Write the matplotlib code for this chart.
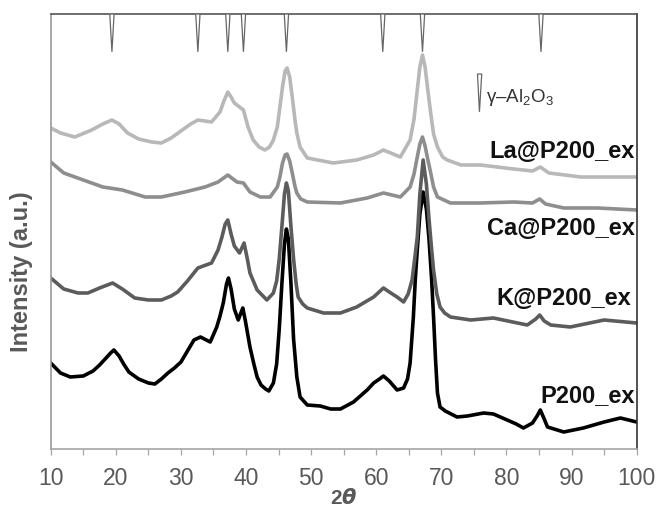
import matplotlib
matplotlib.use("Agg")
import matplotlib.pyplot as plt
from matplotlib.patches import Polygon
from matplotlib.transforms import blended_transform_factory

plt.rcParams['font.family'] = ['Liberation Sans', 'DejaVu Sans']
plt.rcParams['mathtext.fontset'] = 'custom'
plt.rcParams['mathtext.rm'] = 'Liberation Sans'
plt.rcParams['mathtext.it'] = 'Liberation Sans:italic'
plt.rcParams['mathtext.bf'] = 'Liberation Sans:bold'

# XRD patterns (2theta, intensity in arbitrary units)
p200_x = [10, 11.5, 13, 15, 16.5, 17.5, 18.5, 19.2, 19.7, 20.5, 21.2, 22, 23.5, 25, 26, 27, 28, 29, 30,
          31, 32, 33, 34.5, 35.5, 36, 36.5, 37, 37.3, 37.7, 38.2, 38.8, 39.2, 39.5, 39.9, 40.6, 41.2,
          41.7, 42.3, 43, 43.5, 44.2, 44.7, 45.1, 45.5, 45.9, 46.2, 46.5, 46.9, 47.3, 47.8, 48.3, 49.4,
          51.4, 53, 54.5, 56.5, 58.6, 59.6, 60.5, 61.1, 62, 63.2, 64.2, 64.8, 65.2, 65.7, 66.0, 66.3,
          66.7, 67.2, 67.7, 68.1, 68.5, 68.8, 69.1, 69.4, 69.8, 70.6, 72.4, 74, 76.5, 78, 80.1, 81.5,
          82.6, 84, 84.7, 85.2, 85.8, 86.3, 88.8, 91.8, 95, 97.5, 100]
p200_y = [86, 76, 72, 73, 78, 84, 91, 96, 99, 93, 85, 77, 70, 66, 65, 70, 76, 81, 87,
          98, 109, 112, 107, 122, 133, 146, 165, 171, 160, 140, 129, 136, 141, 128, 102, 85,
          72, 64, 60, 58, 66, 85, 120, 165, 205, 220, 210, 165, 110, 72, 52, 44,
          43, 40, 40, 47, 59, 66, 70, 73, 68, 59, 61, 70, 86, 132, 170, 199,
          235, 257, 240, 210, 170, 132, 90, 56, 42, 38, 32, 33, 36, 35, 29, 25,
          21, 26, 33, 39, 30, 22, 17, 21, 27, 31, 27]

k_x = [10, 12, 14.2, 15.7, 17.5, 19.5, 21, 22.9, 25, 27, 28.5, 29.5, 31, 32.6, 34.7, 35.7, 36.3, 36.8,
       37.2, 37.7, 38.2, 39, 39.7, 40.2, 40.6, 41.7, 43.2, 44.2, 44.7, 45.1, 45.5, 45.9, 46.2, 46.5,
       46.9, 47.3, 47.7, 48, 48.7, 49.4, 51.9, 54.5, 57, 59.6, 61.1, 62, 63.2, 64.2, 64.9, 65.5, 65.9,
       66.3, 66.7, 67.2, 67.7, 68.1, 68.5, 68.8, 69.3, 69.8, 70.5, 71.4, 74.5, 78, 81.7, 83.2, 84.5,
       85.1, 85.8, 86.8, 89.8, 95, 100]
k_y = [171, 160, 156, 156, 161, 166, 160, 151, 149, 149, 153, 157, 168, 181, 186, 199, 212, 225,
       229, 215, 203, 196, 206, 190, 176, 159, 149, 156, 168, 190, 222, 255, 266, 258,
       222, 190, 165, 152, 145, 141, 136, 136, 142, 152, 161, 157, 152, 147, 155, 169, 190,
       212, 255, 289, 265, 230, 200, 179, 155, 142, 136, 132, 129, 131, 126, 124, 130,
       134, 128, 124, 122, 129, 126]

ca_x = [10, 12, 15, 18, 21, 24.5, 27, 30.6, 33.7, 35.7, 37.2, 38.6, 39.6, 40.6, 42.2, 43.7, 44.8, 45.2,
        45.6, 46.0, 46.3, 46.7, 47.1, 47.5, 47.8, 48.4, 49.4, 54.5, 58.6, 61.1, 63.7, 65.2, 65.8, 66.3,
        66.7, 67.1, 67.5, 67.9, 68.3, 68.8, 69.4, 71.4, 76, 81.1, 84, 85.1, 86, 88.8, 94, 100]
ca_y = [287, 276, 269, 262, 259, 252, 252, 257, 262, 267, 274, 267, 266, 257, 252, 252, 262, 272,
        286, 294, 295, 288, 276, 263, 256, 250, 247, 246, 251, 256, 252, 262, 275, 292,
        305, 312, 303, 290, 278, 262, 252, 246, 246, 247, 246, 250, 245, 241, 241, 239]

la_x = [10, 11.5, 13.7, 16.3, 18, 19.4, 20.5, 21.8, 23.5, 25.5, 27, 28.5, 30.2, 31.5, 32.6, 34.7, 36,
        36.6, 37.2, 37.7, 38.2, 39, 39.6, 40.3, 41.1, 42, 42.9, 43.6, 44.2, 44.8, 45.2, 45.6, 46.0,
        46.3, 46.7, 47.1, 47.5, 47.8, 48.3, 49.4, 53.4, 57, 59.6, 61.1, 63.7, 65.2, 65.8, 66.3, 66.7,
        67.1, 67.5, 67.9, 68.3, 68.8, 69.4, 70.2, 70.9, 73, 76, 81.1, 84, 85.2, 86.5, 91.4, 100]
la_y = [321, 316, 312, 319, 325, 329, 325, 316, 310, 307, 306, 311, 319, 325, 329, 327, 337,
        348, 357, 352, 346, 342, 339, 322, 309, 302, 299, 302, 309, 322, 342, 362, 378,
        381, 372, 352, 330, 316, 302, 291, 286, 289, 294, 299, 292, 309, 330, 359, 382,
        394, 382, 360, 339, 315, 302, 292, 289, 284, 284, 280, 278, 282, 276, 272, 272]

series = [
    ("P200_ex", p200_x, p200_y, "#000000", 0.997, 0.124),
    ("K@P200_ex", k_x, k_y, "#5c5c5c", 0.99, 0.347),
    ("Ca@P200_ex", ca_x, ca_y, "#8e8e8e", 0.997, 0.508),
    ("La@P200_ex", la_x, la_y, "#b8b8b8", 0.997, 0.683),
]

# gamma-Al2O3 reference reflections
al2o3_pos = [19.4, 32.6, 37.2, 39.6, 46.2, 61.0, 67.1, 85.3]

fig = plt.figure(figsize=(6.58, 5.07), dpi=100)
ax = fig.add_axes([0.0771, 0.1144, 0.8905, 0.858])

for name, xs, ys, col, tx, ty in series:
    ax.plot(xs, ys, color=col, lw=2.6, solid_joinstyle='round')
    ax.text(tx, ty, name, transform=ax.transAxes,
            ha='right', va='center', fontsize=17, fontweight='bold', color='#111111')

trans = blended_transform_factory(ax.transData, ax.transAxes)
for p in al2o3_pos:
    tri = Polygon([[p - 0.33, 1.0], [p + 0.33, 1.0], [p, 0.913]], closed=True,
                  facecolor='white', edgecolor='#666666', lw=0.9, transform=trans, zorder=5)
    ax.add_patch(tri)

# legend marker
tri = Polygon([[75.55, 0.862], [76.2, 0.862], [75.85, 0.775]], closed=True,
              facecolor='white', edgecolor='#666666', lw=0.9, transform=trans, zorder=5)
ax.add_patch(tri)
ax.text(76.9, 0.808, "γ–Al$_2$O$_3$", transform=trans, ha='left', va='center',
        fontsize=13.5, color='#333333')

ax.set_xlim(10, 100)
ax.set_ylim(0, 435)
ax.set_xticks(range(10, 101, 10))
ax.set_xticks(range(15, 100, 10), minor=True)
ax.set_yticks([])
ax.tick_params(axis='x', which='both', direction='out', length=4, width=0.9,
               color='#a6a6a6', labelsize=16.5, labelcolor='#595959', pad=9)

ax.spines['left'].set_color('#999999')
ax.spines['bottom'].set_color('#a6a6a6')
ax.spines['top'].set_color('#555555')
ax.spines['right'].set_color('#333333')
for s in ax.spines.values():
    s.set_linewidth(1.2)

ax.set_xlabel(r"$\mathbf{2}\boldsymbol{\theta}$", fontsize=15, color='#595959', labelpad=0)
ax.xaxis.set_label_coords(0.5, -0.09)
ax.set_ylabel("Intensity (a.u.)", fontsize=17, fontweight='bold', color='#595959')
ax.yaxis.set_label_coords(-0.031, 0.407)

fig.savefig("out.png", dpi=100)
